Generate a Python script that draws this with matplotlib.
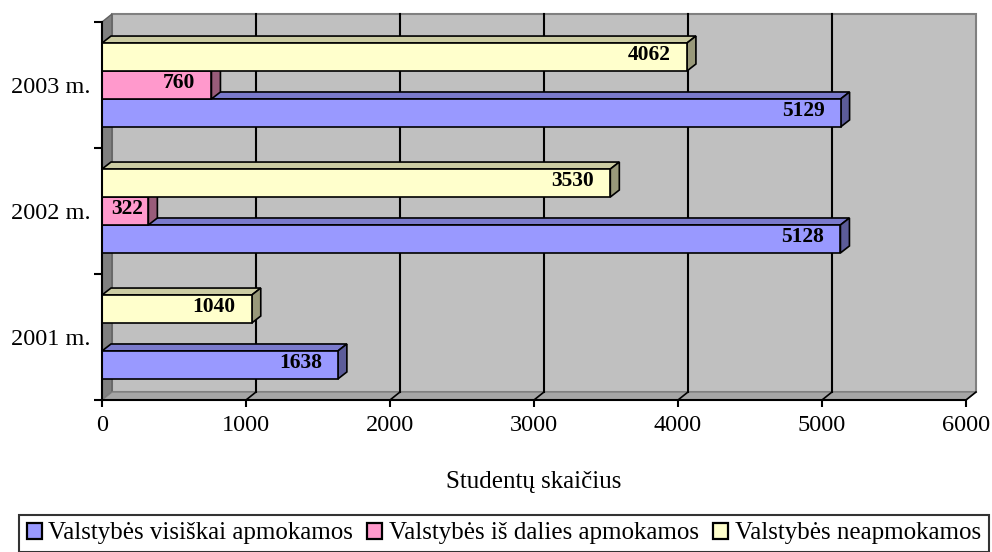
import matplotlib
matplotlib.use("Agg")
import matplotlib.pyplot as plt
from matplotlib.patches import Polygon, Patch
import numpy as np

plt.rcParams['font.family'] = ['Liberation Serif', 'DejaVu Serif']

# data
years = ["2001 m.", "2002 m.", "2003 m."]
series_names = ["Valstybės visiškai apmokamos",
                "Valstybės iš dalies apmokamos",
                "Valstybės neapmokamos"]
full_paid = [1638, 5128, 5129]
part_paid = [0, 322, 760]
not_paid = [1040, 3530, 4062]
x_ticks = [0, 1000, 2000, 3000, 4000, 5000, 6000]
x_title = "Studentų skaičius"

series = [full_paid, part_paid, not_paid]
front_colors = ["#9999ff", "#ff99cc", "#ffffcc"]
top_colors = ["#7a7acc", "#cc7aa3", "#cccca3"]
side_colors = ["#5c5c99", "#995c7a", "#99997a"]

W, H = 992, 552
fig = plt.figure(figsize=(W / 100, H / 100), dpi=100)
ax = fig.add_axes([102 / W, 152 / H, 864 / W, 378 / H])
ax.set_xlim(0, 6000)
ax.set_ylim(0, 3)
for s in ax.spines.values():
    s.set_visible(False)
ax.patch.set_visible(False)

# pixel -> data conversions
px_x = 6000 / 864
px_y = 3 / 378
wdx, wdy = 10 * px_x, 8 * px_y   # wall depth
bdx, bdy = 9 * px_x, 7 * px_y    # bar depth

# walls and floor
back = Polygon([(wdx, wdy), (6000 + wdx, wdy), (6000 + wdx, 3 + wdy), (wdx, 3 + wdy)],
               closed=True, facecolor="#c0c0c0", edgecolor="#808080", lw=1.5,
               clip_on=False, zorder=0)
left = Polygon([(0, 0), (wdx, wdy), (wdx, 3 + wdy), (0, 3)], closed=True,
               facecolor="#808080", edgecolor="#606060", lw=1, clip_on=False, zorder=0)
floor = Polygon([(0, 0), (6000, 0), (6000 + wdx, wdy), (wdx, wdy)], closed=True,
                facecolor="#a6a6a6", edgecolor="#808080", lw=1, clip_on=False, zorder=0)
for p in (back, left, floor):
    ax.add_patch(p)

# gridlines on back wall and floor
for t in x_ticks[1:-1]:
    ax.plot([t + wdx, t + wdx], [wdy, 3 + wdy], color="black", lw=1.5,
            clip_on=False, zorder=1)
for t in x_ticks[1:]:
    ax.plot([t, t + wdx], [0, wdy], color="black", lw=1.2, clip_on=False, zorder=1)

# bars
bh = 0.222
offsets = [-bh, 0, bh]
z = 2
for k in range(len(years)):
    for i, vals in enumerate(series):
        v = vals[k]
        if v <= 0:
            continue
        yc = k + 0.5 + offsets[i]
        y0, y1 = yc - bh / 2, yc + bh / 2
        top = Polygon([(0, y1), (v, y1), (v + bdx, y1 + bdy), (bdx, y1 + bdy)],
                      closed=True, facecolor=top_colors[i], edgecolor="black",
                      lw=1.2, clip_on=False, zorder=z)
        side = Polygon([(v, y0), (v + bdx, y0 + bdy), (v + bdx, y1 + bdy), (v, y1)],
                       closed=True, facecolor=side_colors[i], edgecolor="black",
                       lw=1.2, clip_on=False, zorder=z)
        ax.add_patch(top)
        ax.add_patch(side)
        ax.barh([yc], [v], height=bh, color=front_colors[i], edgecolor="black",
                lw=1.2, zorder=z + 0.5)
        # short bars get the label pushed closer to the end so it stays inside
        lab_dx = -16 if v / px_x > 60 else -5
        ax.annotate(str(v), (v, yc), xytext=(lab_dx, 2), textcoords="offset pixels",
                    ha="right", va="center", fontsize=15.5, fontweight="bold",
                    zorder=z + 1)
        z += 2

# front axis lines
ax.plot([0, 0], [0, 3], color="black", lw=1.5, clip_on=False, zorder=50)
ax.plot([0, 6000], [0, 0], color="black", lw=1.5, clip_on=False, zorder=50)

ax.set_xticks(x_ticks)
ax.set_xticklabels([str(t) for t in x_ticks], fontsize=17.5)
ax.tick_params(axis="x", direction="out", length=5, width=1.5, pad=6)
ax.set_yticks([0, 1, 2, 3])
ax.set_yticklabels([])
ax.set_yticks([k + 0.5 for k in range(len(years))], minor=True)
ax.set_yticklabels(years, minor=True, fontsize=17.5)
ax.tick_params(axis="y", which="major", direction="out", length=6, width=1.5)
ax.tick_params(axis="y", which="minor", length=0, pad=8.5)

ax.set_xlabel(x_title, fontsize=18, labelpad=25)

handles = [Patch(facecolor=c, edgecolor="black", lw=1.6) for c in front_colors]
leg = fig.legend(handles, series_names, loc="lower left", ncol=3,
                 bbox_to_anchor=(19 / W, 0), fontsize=18, frameon=True,
                 fancybox=False, edgecolor="black", handlelength=0.6,
                 handleheight=0.6, handletextpad=0.28, columnspacing=0.55,
                 borderpad=0.3, borderaxespad=0)
leg.get_frame().set_linewidth(1.5)

fig.savefig("out.png", dpi=100)
